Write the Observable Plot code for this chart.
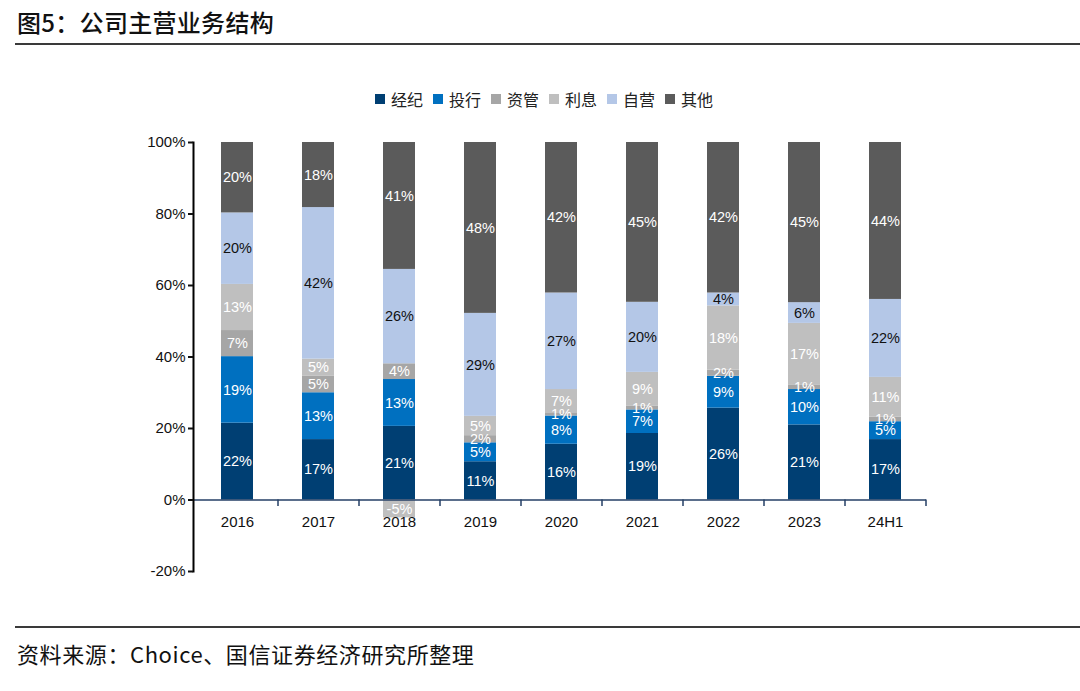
<!DOCTYPE html>
<html>
<head>
<meta charset="utf-8">
<script src="https://cdn.jsdelivr.net/npm/d3@7"></script>
<script src="https://cdn.jsdelivr.net/npm/@observablehq/plot@0.6"></script>
<style>
  html, body { margin: 0; padding: 0; background: #fff; }
  body { width: 1080px; height: 691px; position: relative; overflow: hidden; font-family: "Noto Sans CJK SC", sans-serif; }
  .title { position: absolute; left: 17px; top: 9px; font-size: 24px; line-height: 26px; font-weight: 500; color: #111; letter-spacing: 0.3px; }
  .hline { position: absolute; left: 15px; right: 0; height: 1.5px; background: #3a3a3a; }
  .legend { position: absolute; left: 375px; top: 88px; display: flex; align-items: center; font-size: 16px; line-height: 22px; color: #222; }
  .legend .item { display: flex; align-items: center; margin-right: 10px; }
  .legend .sw { width: 10px; height: 10px; margin-right: 6px; }
  .footer { position: absolute; left: 17px; top: 640px; font-size: 22px; line-height: 26px; color: #111; letter-spacing: 0.6px; }
  #chart { position: absolute; left: 0; top: 120px; }
</style>
</head>
<body>
<div class="title">图5：公司主营业务结构</div>
<div class="hline" style="top:43px"></div>
<div class="legend" id="legend"></div>
<div id="chart"></div>
<div class="hline" style="top:626px"></div>
<div class="footer">资料来源：Choice、国信证券经济研究所整理</div>
<script>
// ---- data ----
const categories = ["2016", "2017", "2018", "2019", "2020", "2021", "2022", "2023", "24H1"];
const seriesNames = ["经纪", "投行", "资管", "利息", "自营", "其他"];
const brokerage = [21.5, 16.9, 20.6, 10.7, 15.6, 18.6, 25.7, 21.0, 16.9];
const investmentBanking = [18.6, 13.1, 13.1, 5.3, 7.9, 6.6, 8.9, 9.9, 5.0];
const assetManagement = [7.3, 4.7, 4.4, 2.0, 0.7, 1.1, 1.7, 1.3, 1.3];
const interest = [12.9, 4.7, -5.0, 5.4, 6.7, 9.4, 18.0, 17.2, 11.1];
const proprietary = [20.0, 42.4, 26.4, 28.8, 27.0, 19.6, 3.6, 5.8, 21.8];
const other = [19.8, 18.2, 41.0, 47.8, 42.1, 44.8, 42.2, 44.8, 43.9];
const yTicks = [-20, 0, 20, 40, 60, 80, 100];

// ---- styles ----
const seriesColors = ["#003f73", "#0070c0", "#a6a6a6", "#bfbfbf", "#b4c7e7", "#5b5b5b"];
const axisNavy = "#243f66";
const numFont = "Liberation Sans, Arial, sans-serif";

const seriesValues = [brokerage, investmentBanking, assetManagement, interest, proprietary, other];
const data = [];
seriesNames.forEach((s, si) => {
  categories.forEach((c, ci) => data.push({cat: c, series: s, value: seriesValues[si][ci]}));
});

// legend
const legend = document.getElementById("legend");
seriesNames.forEach((s, i) => {
  const item = document.createElement("div");
  item.className = "item";
  const sw = document.createElement("span");
  sw.className = "sw";
  sw.style.background = seriesColors[i];
  const t = document.createElement("span");
  t.textContent = s;
  item.appendChild(sw); item.appendChild(t);
  legend.appendChild(item);
});

const xRange = [196.5, 925.5];
const halfStep = (xRange[1] - xRange[0]) / categories.length / 2;

const chart = Plot.plot({
  width: 1080,
  height: 470,
  marginLeft: 193,
  marginRight: 154,
  marginTop: 22,
  marginBottom: 19,
  style: {fontFamily: numFont, fontSize: "15px", color: "#111", background: "transparent"},
  x: {type: "band", domain: categories, range: xRange, paddingInner: 0.6, paddingOuter: 0.3, axis: null},
  y: {domain: [-20, 100], axis: null},
  color: {domain: seriesNames, range: seriesColors},
  marks: [
    Plot.barY(data, {x: "cat", y: "value", fill: "series", order: seriesNames, clip: true}),
    Plot.text(data, Plot.stackY({
      x: "cat", y: "value", z: "series", order: seriesNames,
      text: d => Math.round(d.value) + "%",
      fill: d => d.series === "自营" ? "#111" : "white",
      fontSize: 14.5
    })),
    Plot.ruleY([0], {stroke: axisNavy, strokeWidth: 1.5}),
    Plot.ruleX(categories, {x: d => d, dx: halfStep, y1: 0, y2: -1.8, stroke: axisNavy, strokeWidth: 1.5}),
    Plot.text(categories, {x: d => d, y: 0, dy: 22, text: d => d, fill: "#111", fontSize: 15}),
    Plot.frame({anchor: "left", stroke: "#000", strokeWidth: 2}),
    Plot.axisY({ticks: yTicks, tickFormat: d => d + "%", tickSize: 5, tickPadding: 3, strokeWidth: 2, fontSize: 15, color: "#111", label: null})
  ]
});
document.getElementById("chart").appendChild(chart);
</script>
</body>
</html>
